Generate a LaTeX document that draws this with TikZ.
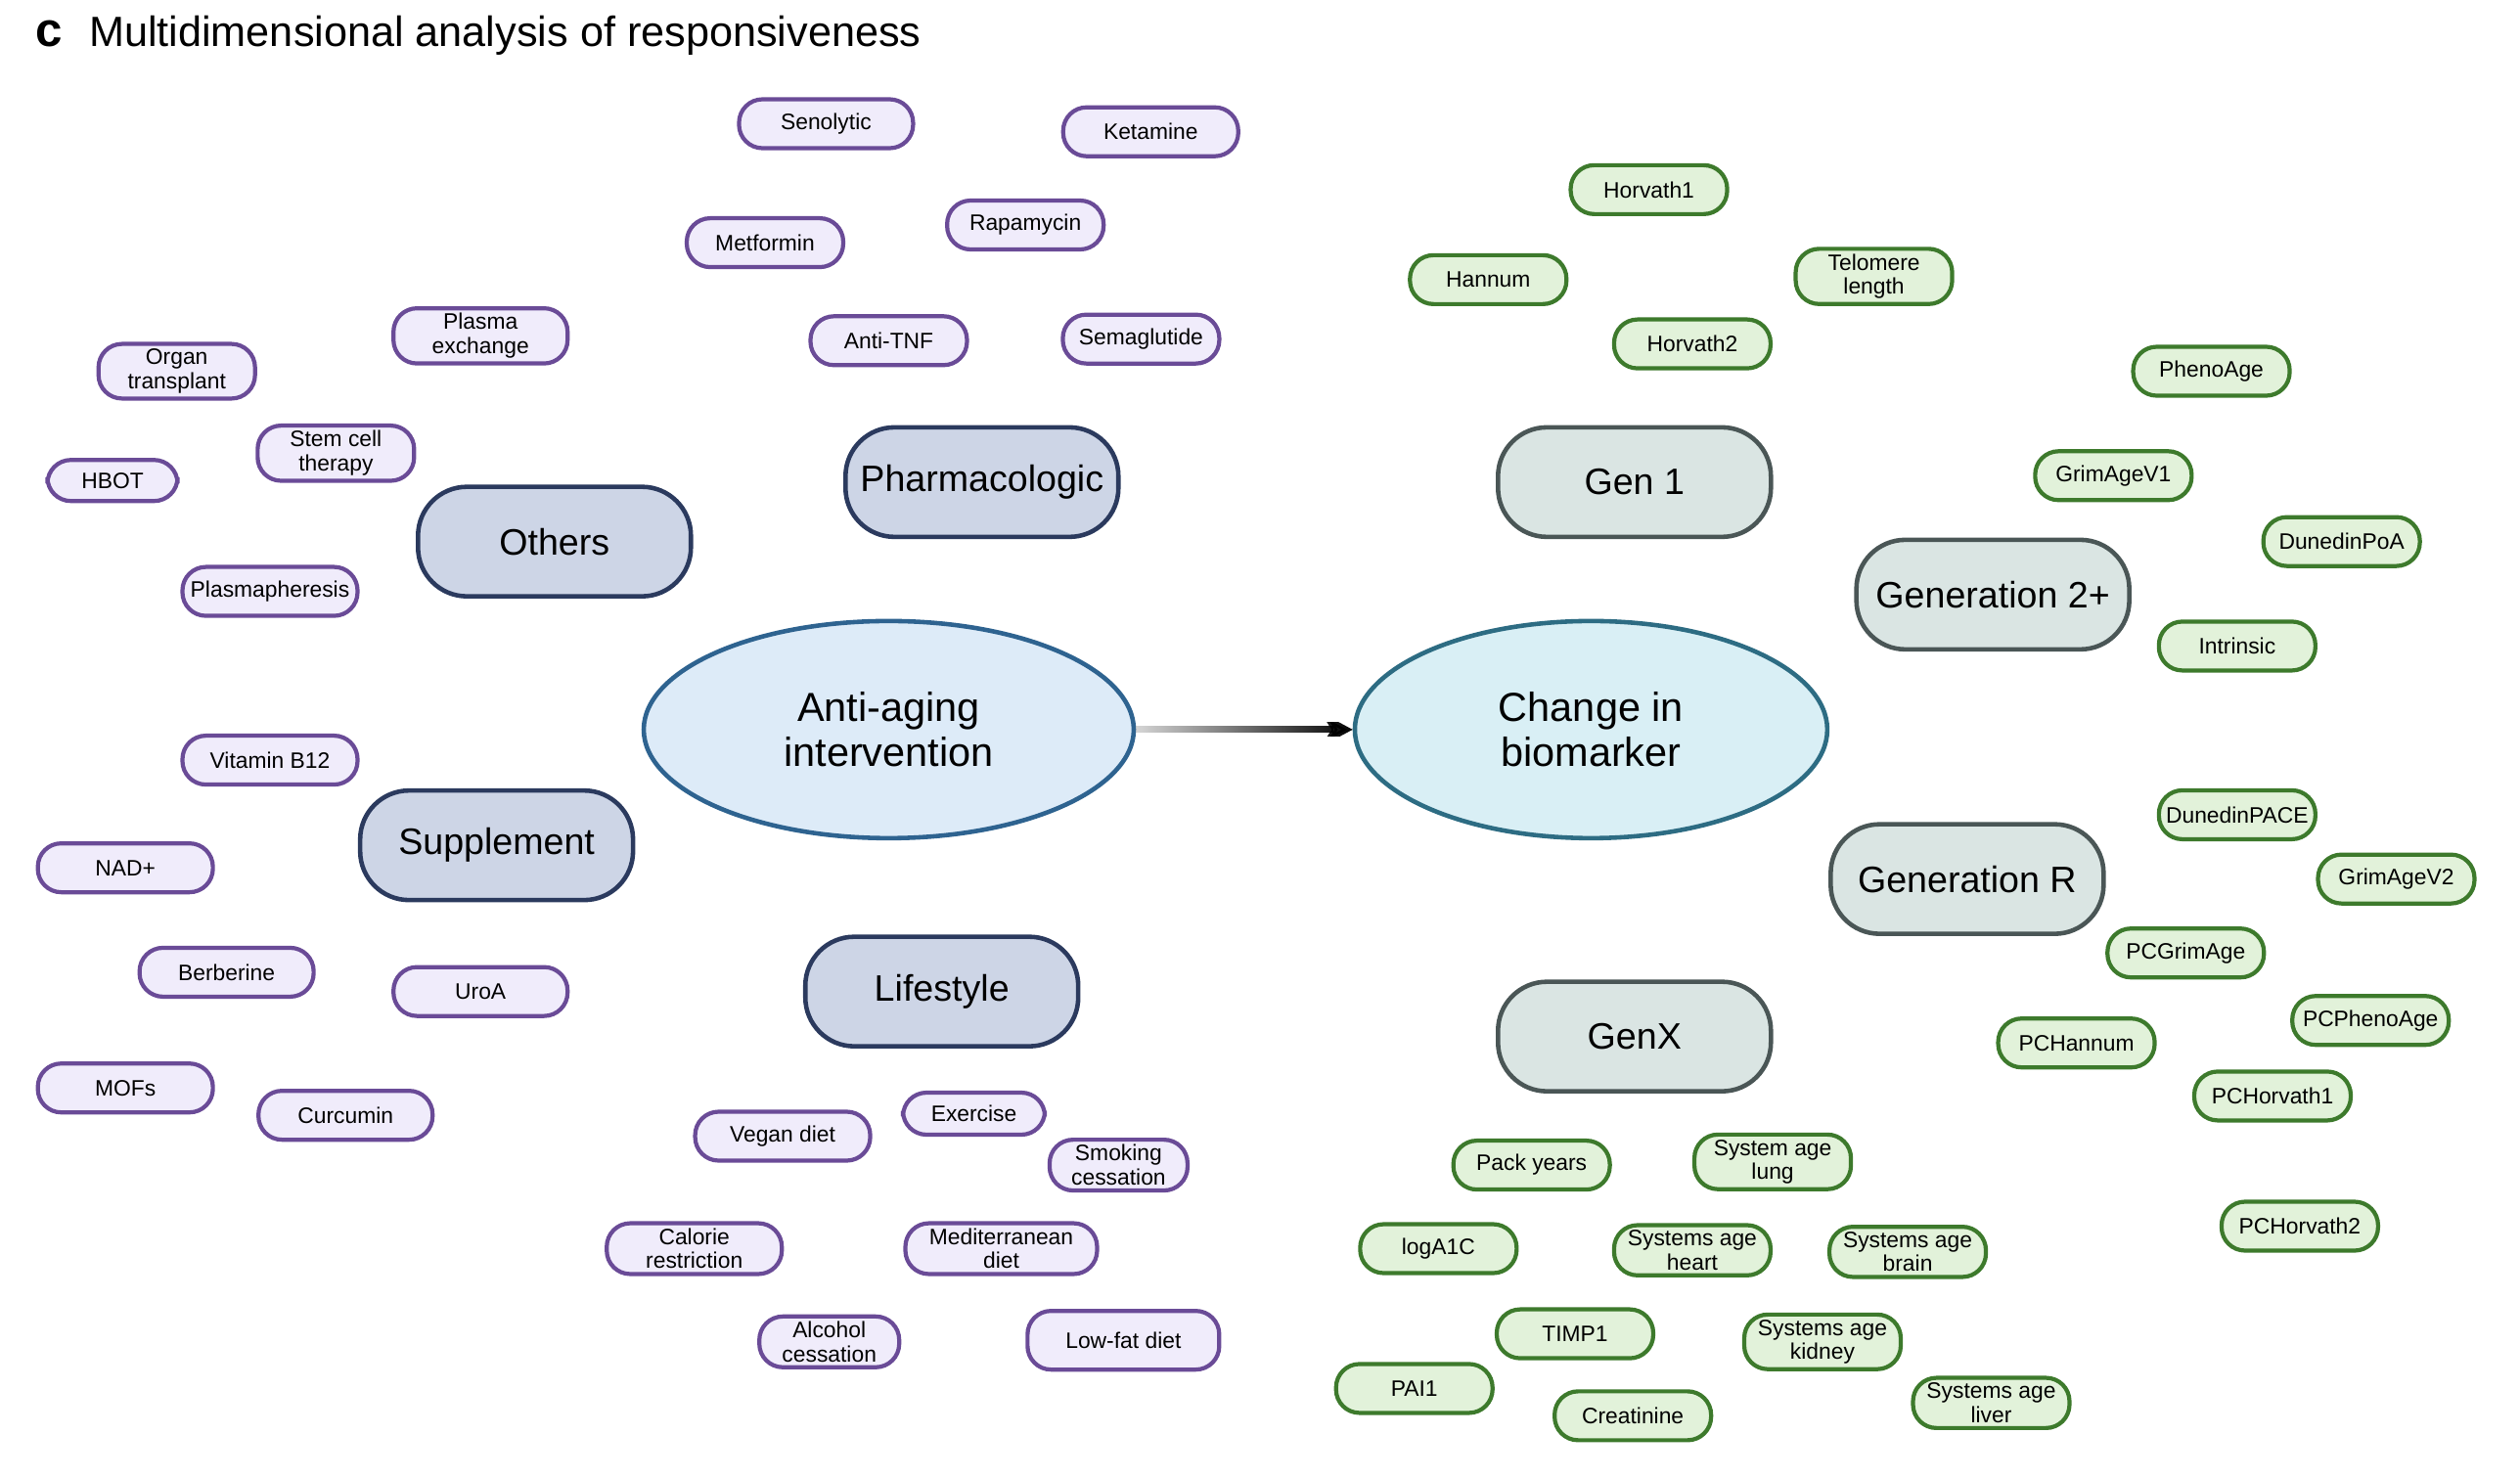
\documentclass[tikz,border=0pt]{standalone}
\usepackage{fontspec}
\setmainfont{Liberation Sans}
\usepackage{xcolor}
\usepackage{tikz}
\usetikzlibrary{arrows.meta, positioning, shapes.geometric, fadings}
\definecolor{PillPurple}{RGB}{106, 75, 151}
\definecolor{PillLilac}{RGB}{240, 236, 251}
\definecolor{CatNavy}{RGB}{43, 58, 94}
\definecolor{CatBlue}{RGB}{205, 213, 230}
\definecolor{MarkGreen}{RGB}{61, 122, 44}
\definecolor{MarkMint}{RGB}{226, 242, 218}
\definecolor{CatSlate}{RGB}{74, 86, 86}
\definecolor{CatMist}{RGB}{218, 229, 227}
\definecolor{HubBlue}{RGB}{46, 99, 144}
\definecolor{HubSky}{RGB}{221, 235, 248}
\definecolor{HubTeal}{RGB}{45, 108, 131}
\definecolor{HubAqua}{RGB}{217, 239, 245}
\tikzfading[name=arrowfade, left color=transparent!85, middle color=transparent!0, right color=transparent!0]
\tikzset{
  ipill/.style={draw=PillPurple,fill=PillLilac,line width=1.2pt,rounded corners=0.24cm,minimum width=1.6cm,minimum height=0.5cm,inner sep=1.5pt,align=center,font=\fontsize{6.5}{7}\selectfont},
  bpill/.style={ipill,draw=MarkGreen,fill=MarkMint},
  icat/.style={draw=CatNavy,fill=CatBlue,line width=1.3pt,rounded corners=0.5cm,minimum width=2.79cm,minimum height=1.12cm,font=\fontsize{10.7}{12}\selectfont},
  bcat/.style={icat,draw=CatSlate,fill=CatMist},
  hub/.style={ellipse,line width=1.3pt,minimum height=2.22cm,align=center,font=\fontsize{11.8}{13}\selectfont}
}

\begin{document}
\begin{tikzpicture}[x=0.1643mm,y=-0.1643mm]
    \useasboundingbox (0,0) rectangle (1568,920);
    \node[anchor=base west,inner sep=0,font=\fontsize{14}{14}\selectfont\bfseries] (panel) at (22,29) {c};
    \node[anchor=base west,inner sep=0,font=\fontsize{12.3}{14}\selectfont] (title) at (55,29) {Multidimensional analysis of responsiveness};

    \node[hub,draw=HubBlue,fill=HubSky,minimum width=5.01cm] (anti) at (553,454) {Anti-aging\\intervention};
    \node[hub,draw=HubTeal,fill=HubAqua,minimum width=4.83cm] (chg) at (990,454) {Change in\\biomarker};
    \draw[line width=2pt,-{Stealth[length=0.32cm,width=0.34cm]},path fading=arrowfade] (anti) -- (chg);

    \node[icat] (pharma) at (611,300) {Pharmacologic};
    \node[icat] (others) at (345,337) {Others};
    \node[icat] (suppl) at (309,526) {Supplement};
    \node[icat] (life) at (586,617) {Lifestyle};
    \node[bcat] (gen1) at (1017,300) {Gen 1};
    \node[bcat] (gen2) at (1240,370) {Generation 2+};
    \node[bcat] (genr) at (1224,547) {Generation R};
    \node[bcat] (genx) at (1017,645) {GenX};

    % interventions
    \node[ipill,minimum width=1.78cm] (senolytic) at (514,77) {Senolytic};
    \node[ipill,minimum width=1.79cm] (ketamine) at (716,82) {Ketamine};
    \node[ipill] (metformin) at (476,151) {Metformin};
    \node[ipill] (rapamycin) at (638,140) {Rapamycin};
    \node[ipill] (antitnf) at (553,212) {Anti-TNF};
    \node[ipill] (semaglutide) at (710,211) {Semaglutide};
    \node[ipill,minimum width=1.78cm] (plasmaex) at (299,209) {Plasma\\exchange};
    \node[ipill] (organ) at (110,231) {Organ\\transplant};
    \node[ipill] (stemcell) at (209,282) {Stem cell\\therapy};
    \node[ipill,minimum width=1.33cm,minimum height=0.42cm] (hbot) at (70,299) {HBOT};
    \node[ipill,minimum width=1.79cm] (plasmaph) at (168,368) {Plasmapheresis};
    \node[ipill,minimum width=1.79cm] (vitb12) at (168,473) {Vitamin B12};
    \node[ipill,minimum width=1.79cm] (nad) at (78,540) {NAD+};
    \node[ipill,minimum width=1.78cm] (berberine) at (141,605) {Berberine};
    \node[ipill,minimum width=1.78cm] (uroa) at (299,617) {UroA};
    \node[ipill,minimum width=1.79cm] (mofs) at (78,677) {MOFs};
    \node[ipill,minimum width=1.78cm] (curcumin) at (215,694) {Curcumin};
    \node[ipill,minimum width=1.79cm] (vegan) at (487,707) {Vegan diet};
    \node[ipill,minimum width=1.45cm,minimum height=0.43cm] (exercise) at (606,693) {Exercise};
    \node[ipill,minimum width=1.41cm] (smoking) at (696,725) {Smoking\\cessation};
    \node[ipill,minimum width=1.79cm] (calorie) at (432,777) {Calorie\\restriction};
    \node[ipill,minimum width=1.96cm] (medit) at (623,777) {Mediterranean\\diet};
    \node[ipill,minimum width=1.43cm] (alcohol) at (516,835) {Alcohol\\cessation};
    \node[ipill,minimum width=1.96cm,minimum height=0.6cm] (lowfat) at (699,834) {Low-fat diet};

    % biomarkers
    \node[bpill] (horvath1) at (1026,118) {Horvath1};
    \node[bpill] (hannum) at (926,174) {Hannum};
    \node[bpill] (telomere) at (1166,172) {Telomere\\length};
    \node[bpill] (horvath2) at (1053,214) {Horvath2};
    \node[bpill] (phenoage) at (1376,231) {PhenoAge};
    \node[bpill] (grimv1) at (1315,296) {GrimAgeV1};
    \node[bpill] (dunpoa) at (1457,337) {DunedinPoA};
    \node[bpill] (intrinsic) at (1392,402) {Intrinsic};
    \node[bpill] (dunpace) at (1392,507) {DunedinPACE};
    \node[bpill] (grimv2) at (1491,547) {GrimAgeV2};
    \node[bpill] (pcgrim) at (1360,593) {PCGrimAge};
    \node[bpill] (pcpheno) at (1475,635) {PCPhenoAge};
    \node[bpill] (pchannum) at (1292,649) {PCHannum};
    \node[bpill] (pchorv1) at (1414,682) {PCHorvath1};
    \node[bpill] (pchorv2) at (1431,763) {PCHorvath2};
    \node[bpill] (packyears) at (953,725) {Pack years};
    \node[bpill] (agelung) at (1103,723) {System age\\lung};
    \node[bpill] (loga1c) at (895,777) {logA1C};
    \node[bpill] (ageheart) at (1053,778) {Systems age\\heart};
    \node[bpill] (agebrain) at (1187,779) {Systems age\\brain};
    \node[bpill] (timp1) at (980,830) {TIMP1};
    \node[bpill] (agekidney) at (1134,835) {Systems age\\kidney};
    \node[bpill] (pai1) at (880,864) {PAI1};
    \node[bpill] (creatinine) at (1016,881) {Creatinine};
    \node[bpill] (ageliver) at (1239,873) {Systems age\\liver};
\end{tikzpicture}
\end{document}
